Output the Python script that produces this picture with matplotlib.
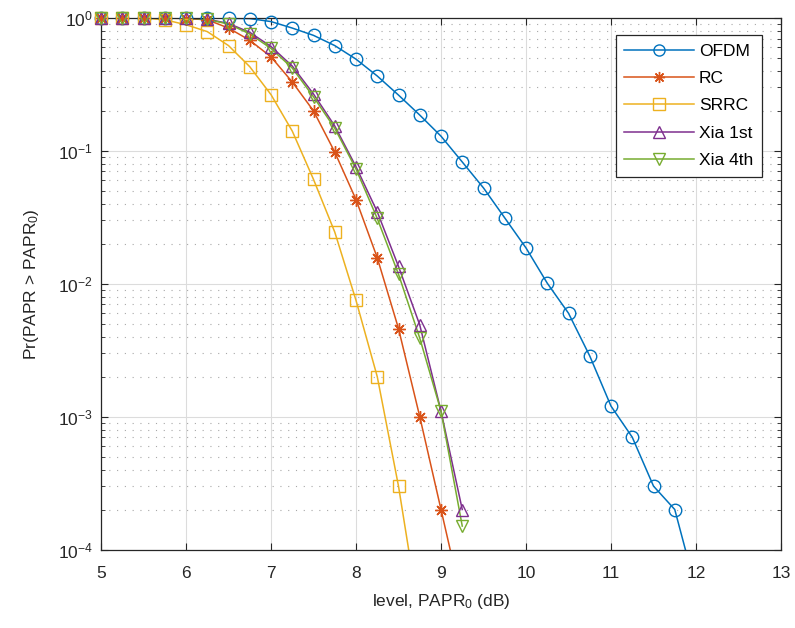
import matplotlib
matplotlib.use("Agg")
import matplotlib.pyplot as plt
import numpy as np
from matplotlib.ticker import LogLocator, NullFormatter, NullLocator

plt.rcParams['font.family'] = ['Liberation Sans', 'DejaVu Sans']
plt.rcParams['mathtext.fontset'] = 'custom'
plt.rcParams['mathtext.rm'] = 'Liberation Sans'
plt.rcParams['mathtext.it'] = 'Liberation Sans'

# PAPR levels (dB), 0.25 dB steps
levels = [5.0, 5.25, 5.5, 5.75, 6.0, 6.25, 6.5, 6.75, 7.0, 7.25, 7.5, 7.75,
          8.0, 8.25, 8.5, 8.75, 9.0, 9.25, 9.5, 9.75, 10.0, 10.25, 10.5,
          10.75, 11.0, 11.25, 11.5, 11.75, 12.0]

ofdm = [1.0, 1.0, 1.0, 1.0, 1.0, 0.998, 0.995, 0.99, 0.94, 0.84, 0.74, 0.62,
        0.49, 0.366, 0.263, 0.186, 0.129, 0.0825, 0.0526, 0.0313, 0.0186,
        0.0101, 0.006, 0.00286, 0.0012, 0.0007, 0.0003, 0.0002, 0.00005]
rc = [1.0, 1.0, 1.0, 1.0, 0.99, 0.97, 0.84, 0.68, 0.51, 0.33, 0.2, 0.098,
      0.043, 0.0157, 0.0046, 0.001, 0.0002, 0.00004]
srrc = [1.0, 1.0, 1.0, 0.97, 0.89, 0.79, 0.62, 0.43, 0.265, 0.141, 0.061,
        0.0245, 0.0075, 0.002, 0.0003, 0.00003]
xia1 = [1.0, 1.0, 1.0, 1.0, 1.0, 0.98, 0.91, 0.78, 0.61, 0.435, 0.268,
        0.154, 0.076, 0.0348, 0.0135, 0.0049, 0.0011, 0.0002]
xia4 = [1.0, 1.0, 1.0, 1.0, 1.0, 0.975, 0.9, 0.76, 0.59, 0.42, 0.255,
        0.148, 0.073, 0.031, 0.0118, 0.0039, 0.0011, 0.00015]

series = [
    ("OFDM", ofdm, '#0072BD', 'o'),
    ("RC", rc, '#D95319', (8, 2, 0)),
    ("SRRC", srrc, '#EDB120', 's'),
    ("Xia 1st", xia1, '#7E2F8E', '^'),
    ("Xia 4th", xia4, '#77AC30', 'v'),
]

fig = plt.figure(figsize=(7.95, 6.28), dpi=100)
ax = fig.add_axes([101 / 795, 1 - 549.5 / 628, 680 / 795, 531.5 / 628])

ymin, ymax = 1e-4, 1.0
handles = []
for name, vals, col, mk in series:
    x = np.array(levels[:len(vals)])
    y = np.array(vals)
    # line is clipped to the axes, markers may overhang the top edge
    ax.semilogy(x, y, '-', color=col, linewidth=1.1)
    keep = y >= ymin
    ax.semilogy(x[keep], y[keep], linestyle='none', marker=mk, markersize=9,
                markerfacecolor='none', markeredgecolor=col,
                markeredgewidth=1.0, clip_on=False, zorder=5)
    h, = ax.plot([], [], '-', color=col, linewidth=1.1, marker=mk,
                 markersize=8, markerfacecolor='none', markeredgewidth=1.0,
                 label=name)
    handles.append(h)

ax.set_xlim(5, 13)
ax.set_ylim(ymin, ymax)
ax.set_xticks([5, 6, 7, 8, 9, 10, 11, 12, 13])
ax.xaxis.set_minor_locator(NullLocator())
ax.yaxis.set_major_locator(LogLocator(base=10, numticks=10))
ax.yaxis.set_minor_locator(LogLocator(base=10, subs=np.arange(2, 10), numticks=10))
ax.yaxis.set_minor_formatter(NullFormatter())

ax.grid(True, which='major', color='#dcdcdc', linewidth=0.8, linestyle='-')
ax.grid(True, which='minor', axis='y', color='#a8a8a8', linewidth=0.8,
        linestyle=(0, (1, 6)))
ax.set_axisbelow(True)

dark = '#262626'
for s in ax.spines.values():
    s.set_color(dark)
    s.set_linewidth(0.9)
ax.tick_params(which='both', direction='in', top=True, right=True,
               colors=dark, labelsize=12.5)
ax.tick_params(which='major', length=5)
ax.tick_params(which='minor', length=3)
ax.tick_params(axis='x', pad=12)
ax.tick_params(axis='y', pad=6)

ax.set_xlabel('level, PAPR$_0$ (dB)', fontsize=12.5, color=dark, labelpad=8)
ax.set_ylabel('Pr(PAPR > PAPR$_0$)', fontsize=12.5, color=dark, labelpad=12)

leg = ax.legend(handles=handles, loc='upper right',
                bbox_to_anchor=(762 / 795, 1 - 35 / 628),
                bbox_transform=fig.transFigure, borderaxespad=0,
                fontsize=12.5, fancybox=False, framealpha=1,
                edgecolor=dark, handlelength=4.0, handletextpad=0.3,
                labelspacing=0.7, borderpad=0.5)
leg.get_frame().set_linewidth(0.9)

fig.savefig('out.png', dpi=100)
